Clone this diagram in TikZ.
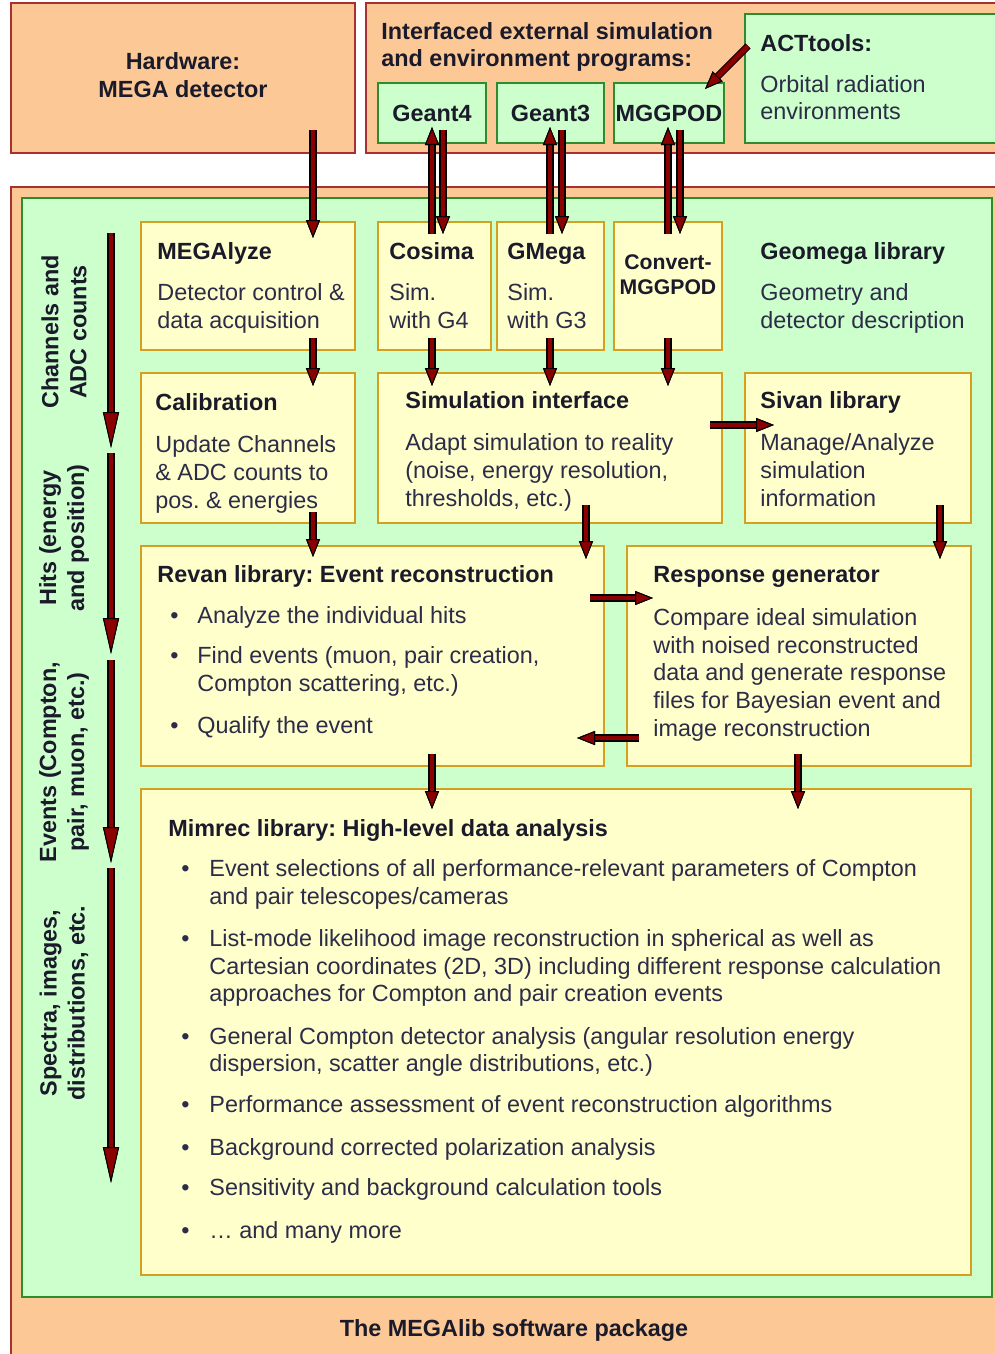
\documentclass[tikz,border=0pt]{standalone}
\usepackage{fontspec}
\setmainfont{Liberation Sans}
\usetikzlibrary{arrows.meta,fit}
\frenchspacing
\definecolor{orng}{HTML}{FCC996}
\definecolor{dred}{HTML}{A83030}
\definecolor{lgreen}{HTML}{CCFFCC}
\definecolor{dgreen}{HTML}{2E8B2E}
\definecolor{lyel}{HTML}{FFFFCC}
\definecolor{gold}{HTML}{D4A020}
\definecolor{arrred}{HTML}{8B0000}
\definecolor{ttl}{HTML}{1A1A2A}
\definecolor{body}{HTML}{2C2C48}
\newcounter{tn}
\newcommand\mytxt[3]{\stepcounter{tn}\node[txt,anchor=mid west,yshift=-1.5pt] (t\arabic{tn}) at (#1,#2) {#3};}
\newcommand\myhd[3]{\stepcounter{tn}\node[hd,anchor=mid west,yshift=-1.5pt] (t\arabic{tn}) at (#1,#2) {#3};}
\begin{document}
\begin{tikzpicture}[x=0.5pt,y=-0.5pt, font=\fontsize{11.7}{14}\selectfont\frenchspacing,
 obox/.style={draw=dred, fill=orng, line width=1.4pt, inner sep=0pt},
 gbox/.style={draw=dgreen, fill=lgreen, line width=1.4pt, inner sep=0pt},
 ybox/.style={draw=gold, fill=lyel, line width=1.4pt, inner sep=0pt},
 hd/.style={font=\fontsize{11.7}{14}\selectfont\bfseries\frenchspacing, text=ttl, inner sep=0pt},
 txt/.style={text=body, inner sep=0pt},
 arr/.style={line width=2.4pt, draw=arrred, preaction={draw=black, line width=3.6pt},
   -{Triangle[length=9pt,width=7pt,fill=arrred,color=black,line width=0.5pt]}},
 larr/.style={line width=2.4pt, draw=arrred, preaction={draw=black, line width=3.6pt},
   -{Triangle[length=18pt,width=8pt,fill=arrred,color=black,line width=0.5pt]}}]
\path[use as bounding box] (0,0) rectangle (995,1354);
\clip (0,0) rectangle (995,1354);
\fill[white] (0,0) rectangle (995,1354);
% top boxes
\node[obox, fit={(11,3)(355,153)}] (hw) {};
\node[obox, fit={(366,3)(1012,153)}] (ext) {};
\node[gbox, fit={(378,83)(486,143)}] (g4) {};
\node[gbox, fit={(497,83)(604,143)}] (g3) {};
\node[gbox, fit={(614,83)(724,143)}] (mgg) {};
\node[gbox, fit={(745,14)(1012,143)}] (act) {};
% package
\node[obox, fit={(11,187)(1012,1372)}] (pkg) {};
\node[gbox, fit={(22,198)(992,1297)}] (inner) {};
% yellow boxes
\node[ybox, fit={(141,222)(355,350)}] (mega) {};
\node[ybox, fit={(378,222)(491,350)}] (cos) {};
\node[ybox, fit={(497,222)(604,350)}] (gm) {};
\node[ybox, fit={(614,222)(722,350)}] (conv) {};
\node[ybox, fit={(141,373)(355,523)}] (cal) {};
\node[ybox, fit={(378,373)(722,523)}] (sim) {};
\node[ybox, fit={(745,373)(971,523)}] (siv) {};
\node[ybox, fit={(141,546)(604,766)}] (rev) {};
\node[ybox, fit={(627,546)(971,766)}] (resp) {};
\node[ybox, fit={(141,789)(971,1275)}] (mim) {};
% texts top
\node[hd, align=center] (hwt) at (183,75) {Hardware:\\[0pt]MEGA detector};
\myhd{381}{31}{Interfaced external simulation}
\myhd{381}{58}{and environment programs:}
\node[hd] (g4t) at (g4) {Geant4};
\node[hd] (g3t) at (g3) {Geant3};
\node[hd] (mggt) at (mgg) {MGGPOD};
\myhd{760}{43}{ACTtools:}
\mytxt{760}{84}{Orbital radiation}
\mytxt{760}{111}{environments}
% row 1
\myhd{157}{251}{MEGAlyze}
\mytxt{157}{292}{Detector control \&}
\mytxt{157}{320}{data acquisition}
\myhd{389}{251}{Cosima}
\mytxt{389}{292}{Sim.}
\mytxt{389}{320}{with G4}
\myhd{507}{251}{GMega}
\mytxt{507}{292}{Sim.}
\mytxt{507}{320}{with G3}
\node[hd, align=center, font=\fontsize{10.6}{12.5}\selectfont\bfseries] (convt) at (668,275) {Convert-\\MGGPOD};
\myhd{760}{251}{Geomega library}
\mytxt{760}{292}{Geometry and}
\mytxt{760}{320}{detector description}
% row 2
\myhd{155}{402}{Calibration}
\mytxt{155}{444}{Update Channels}
\mytxt{155}{472}{\& ADC counts to}
\mytxt{155}{500}{pos. \& energies}
\myhd{405}{400}{Simulation interface}
\mytxt{405}{442}{Adapt simulation to reality}
\mytxt{405}{470}{(noise, energy resolution,}
\mytxt{405}{498}{thresholds, etc.)}
\myhd{760}{400}{Sivan library}
\mytxt{760}{442}{Manage/Analyze}
\mytxt{760}{470}{simulation}
\mytxt{760}{498}{information}
% row 3
\myhd{157}{574}{Revan library: Event reconstruction}
\mytxt{170}{615}{•}
\mytxt{197}{615}{Analyze the individual hits}
\mytxt{170}{655}{•}
\mytxt{197}{655}{Find events (muon, pair creation,}
\mytxt{197}{683}{Compton scattering, etc.)}
\mytxt{170}{725}{•}
\mytxt{197}{725}{Qualify the event}
\myhd{653}{574}{Response generator}
\mytxt{653}{617}{Compare ideal simulation}
\mytxt{653}{645}{with noised reconstructed}
\mytxt{653}{672}{data and generate response}
\mytxt{653}{700}{files for Bayesian event and}
\mytxt{653}{728}{image reconstruction}
% mimrec
\myhd{168}{828}{Mimrec library: High-level data analysis}
\mytxt{181}{868}{•}
\mytxt{209}{868}{Event selections of all performance-relevant parameters of Compton}
\mytxt{209}{896}{and pair telescopes/cameras}
\mytxt{181}{938}{•}
\mytxt{209}{938}{List-mode likelihood image reconstruction in spherical as well as}
\mytxt{209}{966}{Cartesian coordinates (2D, 3D) including different response calculation}
\mytxt{209}{993}{approaches for Compton and pair creation events}
\mytxt{181}{1036}{•}
\mytxt{209}{1036}{General Compton detector analysis (angular resolution energy}
\mytxt{209}{1063}{dispersion, scatter angle distributions, etc.)}
\mytxt{181}{1104}{•}
\mytxt{209}{1104}{Performance assessment of event reconstruction algorithms}
\mytxt{181}{1147}{•}
\mytxt{209}{1147}{Background corrected polarization analysis}
\mytxt{181}{1187}{•}
\mytxt{209}{1187}{Sensitivity and background calculation tools}
\mytxt{181}{1230}{•}
\mytxt{209}{1230}{… and many more}
\node[hd] (pkgt) at (514,1330) {The MEGAlib software package};
% rotated labels
\node[hd, rotate=90, align=center] (lab1) at (64,332) {Channels and\\ADC counts};
\node[hd, rotate=90, align=center] (lab2) at (64,538) {Hits (energy\\and position)};
\node[hd, rotate=90, align=center] (lab3) at (64,762) {Events (Compton,\\pair, muon, etc.)};
\node[hd, rotate=90, align=center] (lab4) at (64,1003) {Spectra, images,\\distributions, etc.};
% arrow coordinates
\coordinate (a1s) at (313,130); \coordinate (a1e) at (313,238);
\coordinate (a2s) at (432,234); \coordinate (a2e) at (432,127);
\coordinate (a3s) at (443,130); \coordinate (a3e) at (443,234);
\coordinate (a4s) at (550,234); \coordinate (a4e) at (550,127);
\coordinate (a5s) at (562,130); \coordinate (a5e) at (562,234);
\coordinate (a6s) at (668,234); \coordinate (a6e) at (668,127);
\coordinate (a7s) at (680,130); \coordinate (a7e) at (680,234);
\coordinate (a8s) at (748,46);  \coordinate (a8e) at (705,89);
\coordinate (a9s) at (313,338); \coordinate (a9e) at (313,386);
\coordinate (a10s) at (432,338); \coordinate (a10e) at (432,386);
\coordinate (a11s) at (550,338); \coordinate (a11e) at (550,386);
\coordinate (a12s) at (668,338); \coordinate (a12e) at (668,386);
\coordinate (a13s) at (710,425); \coordinate (a13e) at (774,425);
\coordinate (a14s) at (313,512); \coordinate (a14e) at (313,557);
\coordinate (a15s) at (586,505); \coordinate (a15e) at (586,559);
\coordinate (a16s) at (940,505); \coordinate (a16e) at (940,559);
\coordinate (a17s) at (590,598); \coordinate (a17e) at (653,598);
\coordinate (a18s) at (639,738); \coordinate (a18e) at (577,738);
\coordinate (a19s) at (432,754); \coordinate (a19e) at (432,809);
\coordinate (a20s) at (798,754); \coordinate (a20e) at (798,809);
\coordinate (l1s) at (111,233); \coordinate (l1e) at (111,448);
\coordinate (l2s) at (111,453); \coordinate (l2e) at (111,654);
\coordinate (l3s) at (111,660); \coordinate (l3e) at (111,863);
\coordinate (l4s) at (111,868); \coordinate (l4e) at (111,1183);
\foreach \i in {1,...,20} {\draw[arr] (a\i s) -- (a\i e);}
\foreach \i in {1,...,4} {\draw[larr] (l\i s) -- (l\i e);}
\end{tikzpicture}
\end{document}
